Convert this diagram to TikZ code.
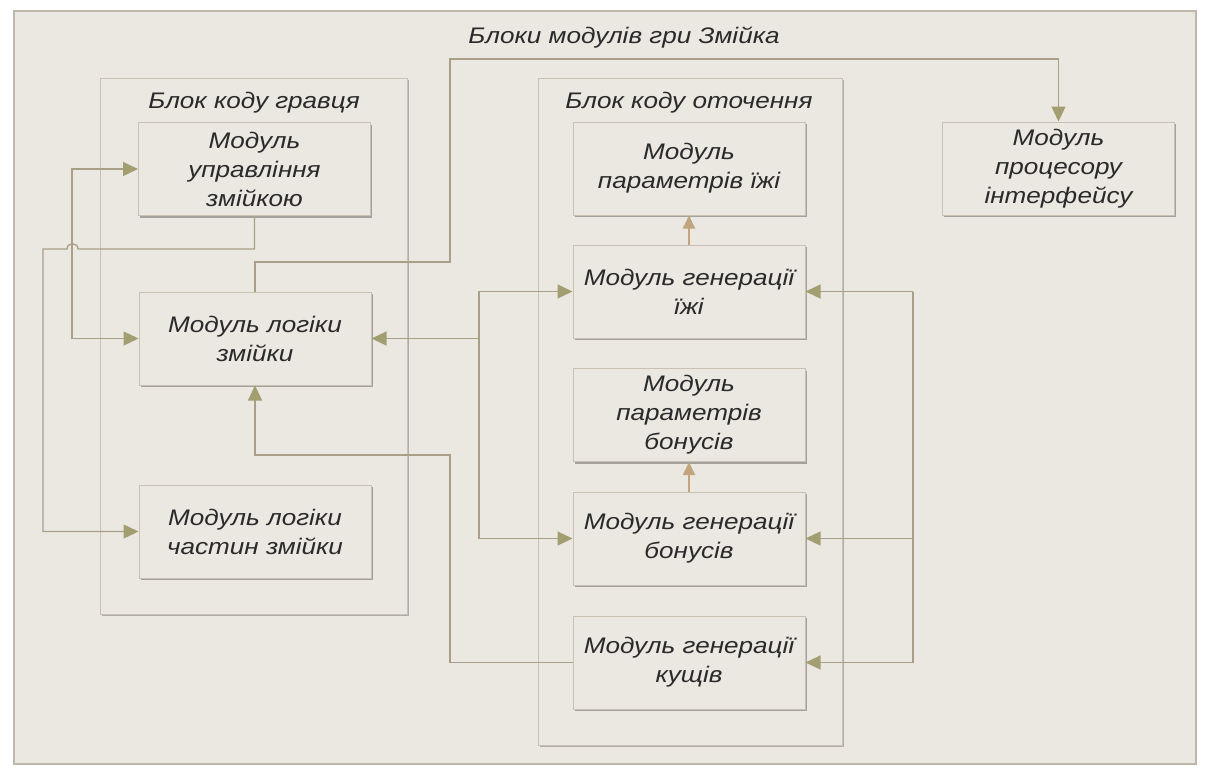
\documentclass[tikz,border=0pt]{standalone}
\usepackage{fontspec}
\setmainfont{Liberation Sans}[FakeStretch=1.16]
\usetikzlibrary{arrows.meta,shadows,calc}
\definecolor{bgc}{HTML}{EBE8E2}
\definecolor{framec}{HTML}{BFB7AB}
\definecolor{boxc}{HTML}{C9C1B3}
\definecolor{linec}{HTML}{A99F86}
\definecolor{arrowc}{HTML}{A39D72}
\definecolor{arrowo}{HTML}{C2A57E}
\definecolor{txtc}{HTML}{2A2A2A}
\begin{document}
\begin{tikzpicture}[x=1pt,y=-1pt,
  every node/.style={font=\itshape\fontsize{22.5}{29}\selectfont, text=txtc},
  blockbox/.style={draw=boxc, line width=1pt, fill=bgc,
    drop shadow={shadow xshift=1.5pt, shadow yshift=-2pt, fill=black, opacity=.25}},
  modbox/.style={draw=boxc, line width=1pt, fill=bgc, inner sep=0pt, align=center,
    minimum width=232pt, minimum height=93pt,
    drop shadow={shadow xshift=1.5pt, shadow yshift=-2pt, fill=black, opacity=.3}},
  conn/.style={draw=linec, line width=1.3pt},
  arr/.style={conn, -{Triangle[length=15pt,width=14pt,color=arrowc,fill=arrowc]}},
  arrb/.style={conn, {Triangle[length=15pt,width=14pt,color=arrowc,fill=arrowc]}-{Triangle[length=15pt,width=14pt,color=arrowc,fill=arrowc]}},
  arro/.style={draw=arrowo, line width=1.8pt, -{Triangle[length=13pt,width=12pt,color=arrowo,fill=arrowo]}}
]
\useasboundingbox (0,0) rectangle (1205,772);
\fill[white] (0,0) rectangle (1205,772);
\draw[draw=framec, line width=1.2pt, fill=bgc] (14,11) rectangle (1196,764);
\node (title) at (624,38) {Блоки модулів гри Змійка};

% blocks
\path[blockbox] (100,78) rectangle (407,614);
\path[blockbox] (538,78) rectangle (842,745);
\node (tleft) at (254,103) {Блок коду гравця};
\node (tright) at (689,103) {Блок коду оточення};

% modules, left
\node[modbox] (ctrl) at (254.5,169) {Модуль\\управління\\змійкою};
\node[modbox] (logic) at (255,338.5) {Модуль логіки\\змійки};
\node[modbox] (parts) at (255,531.5) {Модуль логіки\\частин змійки};

% modules, right
\node[modbox] (fpar) at (689,168.5) {Модуль\\параметрів їжі};
\node[modbox] (fgen) at (689,291.5) {Модуль генерації\\їжі};
\node[modbox] (bpar) at (689,415) {Модуль\\параметрів\\бонусів};
\node[modbox] (bgen) at (689,538.5) {Модуль генерації\\бонусів};
\node[modbox] (bush) at (689,662.5) {Модуль генерації\\кущів};
\node[modbox] (iface) at (1058.5,168.5) {Модуль\\процесору\\інтерфейсу};

% helper coordinates
\coordinate (c1) at (450,262);
\coordinate (c2) at (450,59);
\coordinate (lx) at (72,0);
\coordinate (ox) at (43,0);
\coordinate (J) at (479,338.5);
\coordinate (c5) at (450,455);
\coordinate (rx) at (913,0);
\coordinate (h1) at (78,249);
\coordinate (h2) at (67,249);

% logic -> interface
\draw[arr] (logic.north) |- (c1) -- (c2) -| (iface.north);

% control <-> logic (left loop)
\draw[arrb] (ctrl.west) -| (lx |- logic.west) -- (logic.west);

% control -> parts, with a hop over the x=72 line
\draw[arr] (ctrl.south) |- (h1) .. controls (78,242) and (67,242) .. (h2) -- (ox |- h2) |- (parts.west);

% junction to logic, food gen, bonus gen
\draw[arr] (J) -- (logic.east);
\draw[arr] (J) |- (fgen.west);
\draw[arr] (J) |- (bgen.west);

% bushes -> logic
\draw[arr] (bush.west) -| (c5) -| (logic.south);

% right bus
\draw[conn] (rx |- fgen.east) -- (rx |- bush.east);
\draw[arr] (rx |- fgen.east) -- (fgen.east);
\draw[arr] (rx |- bgen.east) -- (bgen.east);
\draw[arr] (rx |- bush.east) -- (bush.east);

% gen -> params
\draw[arro] (fgen.north) -- (fpar.south);
\draw[arro] (bgen.north) -- (bpar.south);
\end{tikzpicture}
\end{document}
